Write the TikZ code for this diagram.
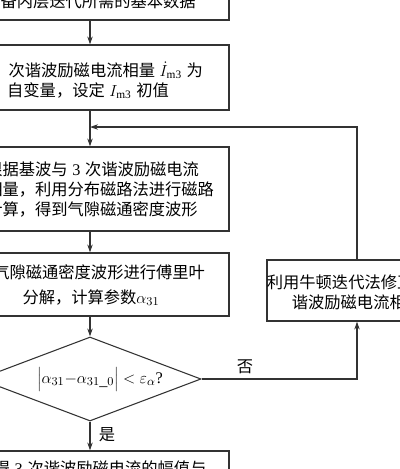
\documentclass[tikz,border=0pt]{standalone}
\usepackage{fontspec}
\setmainfont{Liberation Serif}
\newfontfamily\cjk{Noto Sans CJK SC}
\usetikzlibrary{shapes.geometric,arrows.meta}
\newcommand\rn[1]{{\rmfamily #1}}
\newcommand\gap{\hspace{3.5pt}}
\tikzset{
  x=0.75pt, y=-0.75pt,
  ln/.style={draw=black!80, line width=0.8pt},
  box/.style={ln, rectangle, inner sep=0pt, minimum width=208.5pt},
  txt/.style={inner sep=0pt, align=center, font=\cjk\fontsize{12.2}{15}\selectfont},
  arr/.style={ln, -{Stealth[length=6pt, width=4pt]}},
}
\begin{document}
\begin{tikzpicture}
\useasboundingbox (0,0) rectangle (400,469);
\clip (0,0) rectangle (400,469);
\fill[white] (0,0) rectangle (400,469);

% boxes
\node[box, minimum height=30pt] (b1) at (90,0) {};
\node[box, minimum height=48.75pt] (b2) at (90,77.5) {};
\node[box, minimum height=63pt] (b3) at (90,189) {};
\node[box, minimum height=47.25pt] (b4) at (90,284.5) {};
\node[ln, diamond, inner sep=0pt, minimum width=166.5pt, minimum height=63pt] (dia) at (90,379) {};
\node[box, minimum width=135pt, minimum height=45.75pt] (b5) at (357,290.5) {};
\node[box, minimum height=45pt] (b6) at (90,481) {};

% texts
\node[txt] (t1) at (90,1) {准备内层迭代所需的基本数据};
\node[txt] (t2) at (88,80) {以\gap\rn{3}\hspace{9.3pt}次谐波励磁电流相量\gap$\dot{I}_{\mathrm{m3}}$\gap 为\hspace*{4.5pt}\\自变量，设定\gap$I_{\mathrm{m3}}$\gap 初值};
\node[txt, align=left, anchor=west] (t3) at (-14,190) {根据基波与\gap\rn{3}\gap 次谐波励磁电流\\相量，利用分布磁路法进行磁路\\计算，得到气隙磁通密度波形};
\node[txt] (t4) at (91,285) {对气隙磁通密度波形进行傅里叶\\[3.75pt]分解，计算参数$\alpha_{31}$};
\node[txt] (t5) at (357,292) {利用牛顿迭代法修正\gap\rn{3}\gap 次\\谐波励磁电流相量};
\node[txt] (t6) at (92,468) {获得\gap\rn{3}\gap 次谐波励磁电流的幅值与};
\node[inner sep=0pt, font=\fontsize{12.2}{15}\selectfont] (tc) at (100,379)
  {$\Bigl|\alpha_{31}{-}\alpha_{31\_0}\Bigr|<\varepsilon_{\alpha}$?};
\node[txt] (no) at (245,367) {否};
\node[txt] (yes) at (107,435) {是};

% connectors
\coordinate (j) at (90,127);
\draw[arr] (b1.south) -- (b2.north);
\draw[arr] (b2.south) -- (b3.north);
\draw[arr] (b3.south) -- (b4.north);
\draw[arr] (b4.south) -- (dia.north);
\draw[arr] (dia.south) -- (b6.north);
\draw[arr] (dia.east) -| (b5.south);
\draw[arr] (b5.north) |- (j);
\end{tikzpicture}
\end{document}
